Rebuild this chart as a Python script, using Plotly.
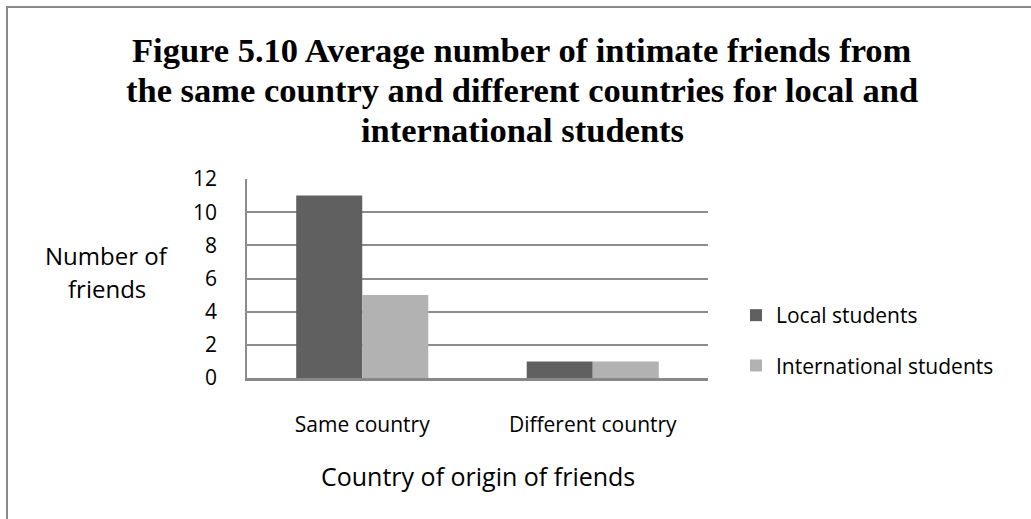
import plotly.graph_objects as go

categories = ["Same country", "Different country"]
local_students = [11, 1]
international_students = [5, 1]
y_ticks = [0, 2, 4, 6, 8, 10, 12]
title_lines = ["Figure 5.10 Average number of intimate friends from",
               "the same country and different countries for local and",
               "international students"]
y_title_lines = ["Number of", "friends"]
x_title = "Country of origin of friends"

W, H = 1031, 519
L, R, T, B = 247, 708, 179, 378
pw, ph = R - L, B - T

def px(x):
    return (x - L) / pw

def py(y):
    return (B - y) / ph

FONT = "Open Sans"

fig = go.Figure()
fig.add_trace(go.Bar(x=categories, y=local_students, name="Local students",
                     marker=dict(color="#606060", line=dict(width=0)),
                     legendgroup="a"))
fig.add_trace(go.Bar(x=categories, y=international_students, name="International students",
                     marker=dict(color="#b2b2b2", line=dict(width=0)),
                     legendgroup="b"))

fig.update_layout(
    width=W, height=H,
    margin=dict(l=L, r=W - R, t=T, b=H - B, pad=0),
    paper_bgcolor="white", plot_bgcolor="white",
    barmode="group", bargap=0.427, bargroupgap=0,
    legend=dict(x=px(736), xanchor="left", y=py(295), yanchor="top",
                font=dict(family=FONT, size=21, color="black"),
                tracegroupgap=20, itemwidth=30, bgcolor="rgba(0,0,0,0)"),
    xaxis=dict(showgrid=False, showline=True, linecolor="#888888", linewidth=3,
               ticks="", tickfont=dict(family=FONT, size=21, color="black"),
               ticklabelstandoff=26, zeroline=False),
    yaxis=dict(range=[0, 12], tickvals=y_ticks, showgrid=True, gridcolor="#8c8c8c",
               gridwidth=1.5, showline=True, linecolor="#8c8c8c", linewidth=1.5,
               ticks="", tickfont=dict(family=FONT, size=21, color="black"),
               ticklabelstandoff=24, zeroline=False),
    showlegend=True,
)

for i, line in enumerate(title_lines):
    fig.add_annotation(text="<b>" + line + "</b>", xref="paper", yref="paper",
                       x=px(522), y=py(50 + 40 * i), xanchor="center", yanchor="middle",
                       showarrow=False,
                       font=dict(family="Liberation Serif", size=34.5, color="black"))

for i, line in enumerate(y_title_lines):
    fig.add_annotation(text=line, xref="paper", yref="paper",
                       x=px(107), y=py(255 + 33 * i), xanchor="center", yanchor="middle",
                       showarrow=False,
                       font=dict(family=FONT, size=24, color="black"))

fig.add_annotation(text=x_title, xref="paper", yref="paper",
                   x=0.5, y=py(476), xanchor="center", yanchor="middle",
                   showarrow=False, font=dict(family=FONT, size=25, color="black"))

fig.add_shape(type="rect", xref="paper", yref="paper",
              x0=px(7), x1=px(W + 20), y0=py(H + 20), y1=py(7),
              line=dict(color="#8a8a8a", width=2), fillcolor="rgba(0,0,0,0)", layer="below")

fig.write_html("out.html")
